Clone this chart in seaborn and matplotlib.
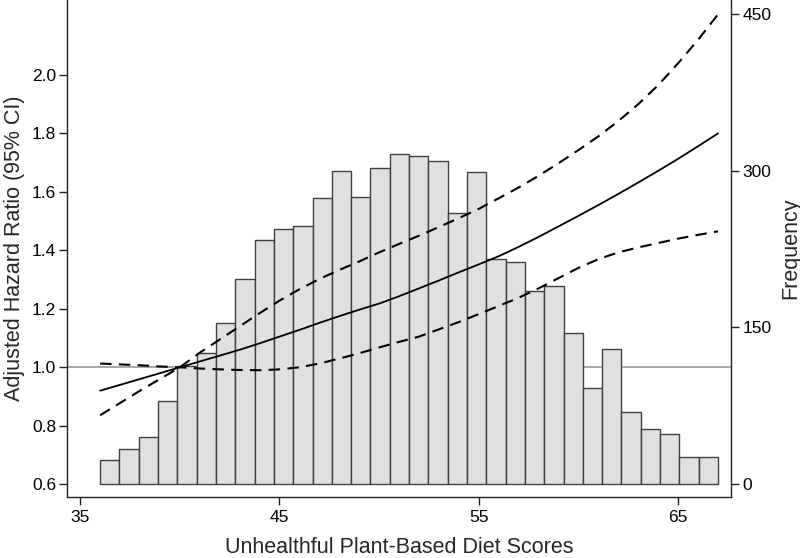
import numpy as np
import pandas as pd
import seaborn as sns
import matplotlib.pyplot as plt

sns.set_style("white")
plt.rcParams['font.family'] = ['Liberation Sans', 'DejaVu Sans']

# histogram of diet scores: 32 bins between 36 and 67
bin_lo, bin_hi, n_bins = 36, 67, 32
freq = [23, 34, 45, 80, 113, 126, 154, 196, 234, 244, 247, 274, 300, 275, 303, 316,
        314, 309, 260, 299, 216, 213, 185, 190, 145, 92, 129, 69, 53, 48, 26, 26]

# spline estimate of the hazard ratio with its 95% CI
score = list(range(36, 68))
hr = [0.92, 0.94, 0.96, 0.98, 1.00, 1.02, 1.04, 1.06, 1.082, 1.105, 1.128, 1.152,
      1.175, 1.197, 1.218, 1.243, 1.27, 1.297, 1.325, 1.352, 1.38, 1.412, 1.446, 1.482,
      1.518, 1.555, 1.593, 1.632, 1.672, 1.713, 1.756, 1.80]
hr_upper = [0.836, 0.878, 0.92, 0.96, 1.0, 1.05, 1.095, 1.14, 1.185, 1.228, 1.267, 1.302,
            1.333, 1.362, 1.393, 1.422, 1.45, 1.48, 1.51, 1.542, 1.578, 1.615, 1.655, 1.698,
            1.743, 1.79, 1.842, 1.90, 1.965, 2.04, 2.12, 2.207]
hr_lower = [1.013, 1.01, 1.007, 1.003, 1.0, 0.996, 0.993, 0.991, 0.99, 0.993, 1.0, 1.013,
            1.03, 1.048, 1.068, 1.087, 1.105, 1.13, 1.155, 1.182, 1.21, 1.238, 1.27, 1.305,
            1.34, 1.37, 1.393, 1.41, 1.425, 1.44, 1.453, 1.465]

edges = np.linspace(bin_lo, bin_hi, n_bins + 1)
df_hist = pd.DataFrame({"score": (edges[:-1] + edges[1:]) / 2, "n": freq})
df_hr = pd.DataFrame({"score": score, "HR": hr, "upper": hr_upper, "lower": hr_lower})

fig = plt.figure(figsize=(8, 5.58), dpi=100)
ax = fig.add_axes([0.084, 0.109, 0.83, 0.891])
ax2 = ax.twinx()   # frequency axis (bars)
ax3 = ax.twinx()   # curves, drawn above the bars

ax.axhline(1.0, color="#999999", lw=1.2, zorder=1)

sns.histplot(data=df_hist, x="score", weights="n", bins=n_bins, binrange=(bin_lo, bin_hi),
             color="#e0e0e0", edgecolor="#404040", linewidth=1.0, alpha=1, ax=ax2)

sns.lineplot(data=df_hr, x="score", y="HR", color="black", lw=1.3, ax=ax3)
for col in ["upper", "lower"]:
    sns.lineplot(data=df_hr, x="score", y=col, color="black", lw=1.5,
                 dashes=False, ax=ax3, linestyle=(0, (5.5, 3.5)))

xlim = (34.35, 67.66)
ylim = (0.556, 2.256)
for a in (ax, ax2, ax3):
    a.set_xlim(xlim)
ax.set_ylim(ylim)
ax3.set_ylim(ylim)
ax2.set_ylim(-12.4, 463.4)

ax.set_xticks([35, 45, 55, 65])
yt = np.arange(0.6, 2.01, 0.2)
ax.set_yticks(yt)
ax.set_yticklabels([f"{v:.1f}" for v in yt])
ax2.set_yticks([0, 150, 300, 450])

ax.set_xlabel("Unhealthful Plant-Based Diet Scores", fontsize=15.5, labelpad=9)
ax.set_ylabel("Adjusted Hazard Ratio (95% CI)", fontsize=15.5, labelpad=5)
ax2.set_ylabel("Frequency", fontsize=15.5, labelpad=6)
ax3.set_ylabel("")
ax3.set_xlabel("")
ax2.set_xlabel("")

for a in (ax, ax2):
    a.tick_params(direction="out", length=6, width=1, colors="#222222",
                  labelsize=12.5, labelcolor="black")
ax.tick_params(axis="x", bottom=True, pad=3)
ax.tick_params(axis="y", right=False, left=True, pad=2)
ax2.tick_params(axis="y", right=True, left=False, pad=2)
ax2.tick_params(axis="x", bottom=False, labelbottom=False)
ax3.set_yticks([])
ax3.tick_params(bottom=False, labelbottom=False)

for s in ax.spines.values():
    s.set_color("#222222")
    s.set_linewidth(1.0)
ax.spines["top"].set_visible(False)
ax.spines["right"].set_visible(False)
for name, s in ax2.spines.items():
    s.set_visible(name == "right")
    s.set_color("#222222")
    s.set_linewidth(1.0)
for s in ax3.spines.values():
    s.set_visible(False)

ax.set_zorder(1)
ax2.set_zorder(2)
ax3.set_zorder(3)
ax2.patch.set_visible(False)
ax3.patch.set_visible(False)

fig.savefig("out.png", dpi=100)
